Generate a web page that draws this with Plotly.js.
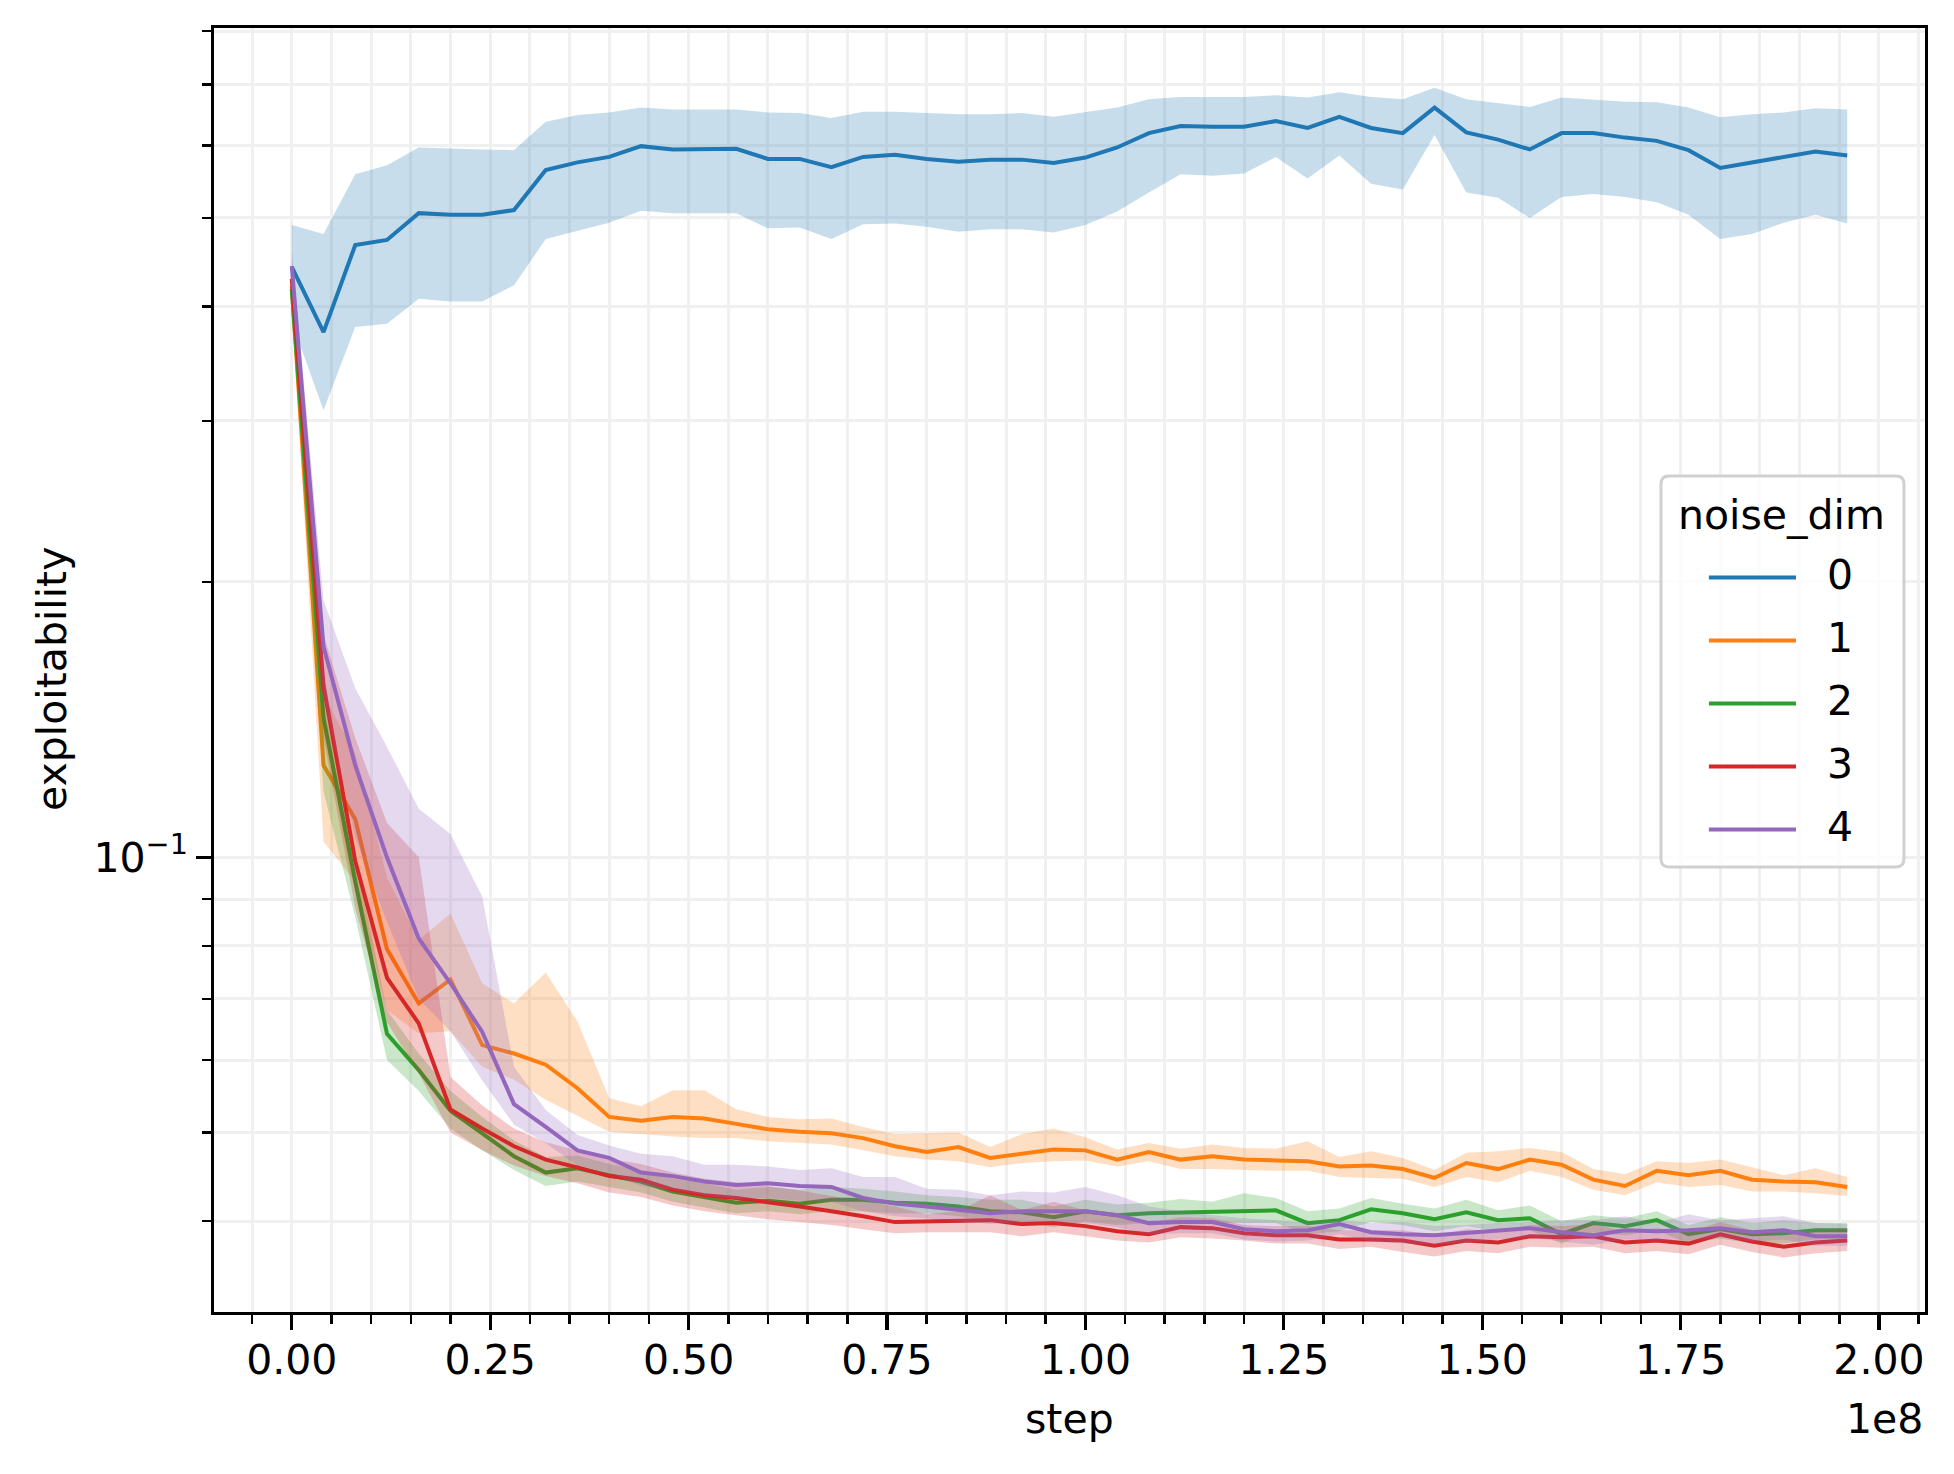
<!DOCTYPE html>
<html>
<head>
<meta charset="utf-8">
<script src="https://cdn.plot.ly/plotly-3.0.1.min.js"></script>
<style>
  html, body { margin: 0; padding: 0; background: #fff; }
  #chart { width: 1954px; height: 1474px; }
</style>
</head>
<body>
<div id="chart"></div>
<script>
// training steps (x)
const steps = [0, 4e6, 8e6, 12e6, 16e6, 20e6, 24e6, 28e6, 32e6, 36e6,
  40e6, 44e6, 48e6, 52e6, 56e6, 60e6, 64e6, 68e6, 72e6, 76e6,
  80e6, 84e6, 88e6, 92e6, 96e6, 100e6, 104e6, 108e6, 112e6, 116e6,
  120e6, 124e6, 128e6, 132e6, 136e6, 140e6, 144e6, 148e6, 152e6, 156e6,
  160e6, 164e6, 168e6, 172e6, 176e6, 180e6, 184e6, 188e6, 192e6, 196e6];

// noise_dim = 0
const dim0_mean = [0.442, 0.375, 0.467, 0.473, 0.506, 0.504, 0.504, 0.510, 0.564, 0.575,
  0.583, 0.599, 0.594, 0.595, 0.595, 0.580, 0.580, 0.568, 0.583, 0.586,
  0.580, 0.576, 0.579, 0.579, 0.574, 0.582, 0.597, 0.619, 0.630, 0.629,
  0.629, 0.638, 0.627, 0.645, 0.627, 0.619, 0.660, 0.620, 0.609, 0.594,
  0.619, 0.619, 0.612, 0.607, 0.593, 0.567, 0.575, 0.583, 0.591, 0.585];
const dim0_hi = [0.491, 0.480, 0.558, 0.571, 0.597, 0.595, 0.594, 0.593, 0.637, 0.648,
  0.652, 0.660, 0.657, 0.657, 0.657, 0.652, 0.651, 0.643, 0.653, 0.653,
  0.651, 0.649, 0.649, 0.651, 0.645, 0.652, 0.660, 0.674, 0.678, 0.678,
  0.678, 0.681, 0.677, 0.686, 0.678, 0.674, 0.694, 0.674, 0.668, 0.661,
  0.677, 0.674, 0.670, 0.669, 0.660, 0.644, 0.649, 0.652, 0.659, 0.657];
const dim0_lo = [0.385, 0.308, 0.380, 0.383, 0.408, 0.405, 0.405, 0.422, 0.474, 0.484,
  0.494, 0.509, 0.506, 0.506, 0.506, 0.487, 0.488, 0.474, 0.492, 0.493,
  0.489, 0.483, 0.486, 0.486, 0.482, 0.491, 0.508, 0.533, 0.558, 0.556,
  0.559, 0.583, 0.552, 0.585, 0.545, 0.537, 0.616, 0.533, 0.526, 0.500,
  0.527, 0.531, 0.527, 0.520, 0.504, 0.474, 0.480, 0.494, 0.504, 0.493];

// noise_dim = 1
const dim1_mean = [0.421, 0.126, 0.110, 0.0793, 0.0692, 0.0735, 0.0623, 0.0610, 0.0593, 0.0559,
  0.0520, 0.0515, 0.0520, 0.0518, 0.0511, 0.0504, 0.0501, 0.0499, 0.0493, 0.0483,
  0.0476, 0.0482, 0.0469, 0.0474, 0.0479, 0.0478, 0.0467, 0.0476, 0.0467, 0.0471,
  0.0467, 0.0466, 0.0465, 0.0459, 0.0460, 0.0456, 0.0446, 0.0463, 0.0456, 0.0467,
  0.0461, 0.0444, 0.0437, 0.0454, 0.0449, 0.0454, 0.0444, 0.0442, 0.0441, 0.0436];
const dim1_hi = [0.440, 0.150, 0.130, 0.095, 0.0812, 0.0868, 0.0728, 0.0692, 0.0748, 0.0661,
  0.0545, 0.0534, 0.0556, 0.0556, 0.0530, 0.0520, 0.0517, 0.0518, 0.0507, 0.0498,
  0.0499, 0.0500, 0.0482, 0.0498, 0.0505, 0.0494, 0.0479, 0.0487, 0.0480, 0.0485,
  0.0481, 0.0480, 0.0489, 0.0470, 0.0477, 0.0469, 0.0455, 0.0475, 0.0477, 0.0481,
  0.0476, 0.0456, 0.0450, 0.0465, 0.0463, 0.0467, 0.0458, 0.0449, 0.0457, 0.0447];
const dim1_lo = [0.402, 0.104, 0.094, 0.068, 0.0642, 0.0645, 0.0590, 0.0571, 0.0543, 0.0522,
  0.0501, 0.0498, 0.0495, 0.0493, 0.0493, 0.0489, 0.0487, 0.0485, 0.0478, 0.0471,
  0.0467, 0.0465, 0.0458, 0.0463, 0.0465, 0.0466, 0.0459, 0.0465, 0.0456, 0.0456,
  0.0455, 0.0454, 0.0454, 0.0447, 0.0446, 0.0445, 0.0436, 0.0447, 0.0441, 0.0454,
  0.0447, 0.0433, 0.0427, 0.0441, 0.0436, 0.0438, 0.0431, 0.0431, 0.0429, 0.0426];

// noise_dim = 2
const dim2_mean = [0.418, 0.142, 0.094, 0.0641, 0.0585, 0.0528, 0.0499, 0.0471, 0.0452, 0.0457,
  0.0449, 0.0442, 0.0431, 0.0425, 0.0419, 0.0421, 0.0418, 0.0422, 0.0422, 0.0419,
  0.0418, 0.0415, 0.0410, 0.0409, 0.0404, 0.0410, 0.0406, 0.0408, 0.0409, 0.0409,
  0.0410, 0.0411, 0.0398, 0.0401, 0.0412, 0.0408, 0.0402, 0.0409, 0.0401, 0.0403,
  0.0387, 0.0398, 0.0395, 0.0401, 0.0387, 0.0392, 0.0387, 0.0388, 0.0391, 0.0391];
const dim2_hi = [0.430, 0.160, 0.100, 0.068, 0.0610, 0.0555, 0.0520, 0.0490, 0.0470, 0.0472,
  0.0462, 0.0455, 0.0445, 0.0440, 0.0433, 0.0436, 0.0433, 0.0436, 0.0434, 0.0431,
  0.0427, 0.0425, 0.0422, 0.0422, 0.0415, 0.0422, 0.0417, 0.0419, 0.0423, 0.0420,
  0.0429, 0.0424, 0.0410, 0.0413, 0.0424, 0.0418, 0.0413, 0.0422, 0.0411, 0.0416,
  0.0400, 0.0406, 0.0403, 0.0410, 0.0396, 0.0404, 0.0398, 0.0401, 0.0398, 0.0398];
const dim2_lo = [0.405, 0.118, 0.086, 0.060, 0.0555, 0.0505, 0.0478, 0.0455, 0.0437, 0.0442,
  0.0436, 0.0430, 0.0420, 0.0414, 0.0408, 0.0410, 0.0407, 0.0410, 0.0410, 0.0408,
  0.0408, 0.0405, 0.0400, 0.0399, 0.0394, 0.0400, 0.0396, 0.0398, 0.0398, 0.0398,
  0.0398, 0.0398, 0.0387, 0.0390, 0.0399, 0.0396, 0.0390, 0.0395, 0.0390, 0.0391,
  0.0378, 0.0389, 0.0386, 0.0391, 0.0378, 0.0383, 0.0378, 0.0378, 0.0382, 0.0382];

// noise_dim = 3
const dim3_mean = [0.429, 0.154, 0.099, 0.0738, 0.0658, 0.0530, 0.0505, 0.0483, 0.0467, 0.0458,
  0.0448, 0.0444, 0.0433, 0.0427, 0.0424, 0.0420, 0.0415, 0.0410, 0.0405, 0.0399,
  0.0400, 0.0400, 0.0401, 0.0397, 0.0398, 0.0395, 0.0390, 0.0387, 0.0394, 0.0393,
  0.0388, 0.0386, 0.0386, 0.0382, 0.0382, 0.0381, 0.0376, 0.0381, 0.0379, 0.0385,
  0.0384, 0.0385, 0.0379, 0.0381, 0.0378, 0.0387, 0.0380, 0.0375, 0.0379, 0.0381];
const dim3_hi = [0.440, 0.175, 0.135, 0.109, 0.100, 0.0575, 0.0535, 0.0505, 0.0488, 0.0478,
  0.0468, 0.0462, 0.0452, 0.0445, 0.0441, 0.0437, 0.0432, 0.0426, 0.0421, 0.0415,
  0.0407, 0.0410, 0.0427, 0.0411, 0.0420, 0.0411, 0.0406, 0.0398, 0.0404, 0.0403,
  0.0396, 0.0395, 0.0395, 0.0391, 0.0391, 0.0391, 0.0386, 0.0392, 0.0390, 0.0396,
  0.0395, 0.0397, 0.0390, 0.0393, 0.0389, 0.0399, 0.0391, 0.0386, 0.0390, 0.0392];
const dim3_lo = [0.418, 0.135, 0.088, 0.066, 0.058, 0.0500, 0.0478, 0.0460, 0.0448, 0.0440,
  0.0430, 0.0425, 0.0416, 0.0410, 0.0406, 0.0402, 0.0399, 0.0396, 0.0392, 0.0388,
  0.0389, 0.0389, 0.0389, 0.0385, 0.0389, 0.0385, 0.0381, 0.0379, 0.0384, 0.0383,
  0.0381, 0.0378, 0.0378, 0.0373, 0.0375, 0.0370, 0.0366, 0.0371, 0.0369, 0.0375,
  0.0374, 0.0375, 0.0369, 0.0371, 0.0368, 0.0377, 0.0370, 0.0365, 0.0369, 0.0371];

// noise_dim = 4
const dim4_mean = [0.443, 0.170, 0.126, 0.0999, 0.0815, 0.0728, 0.0644, 0.0537, 0.0507, 0.0478,
  0.0469, 0.0452, 0.0448, 0.0442, 0.0438, 0.0440, 0.0437, 0.0436, 0.0424, 0.0418,
  0.0415, 0.0412, 0.0408, 0.0410, 0.0410, 0.0410, 0.0406, 0.0398, 0.0399, 0.0399,
  0.0392, 0.0390, 0.0391, 0.0397, 0.0389, 0.0387, 0.0386, 0.0388, 0.0391, 0.0393,
  0.0389, 0.0386, 0.0391, 0.0390, 0.0391, 0.0393, 0.0389, 0.0391, 0.0385, 0.0385];
const dim4_hi = [0.460, 0.191, 0.153, 0.132, 0.113, 0.106, 0.0905, 0.0590, 0.0529, 0.0497,
  0.0484, 0.0474, 0.0471, 0.0461, 0.0461, 0.0459, 0.0455, 0.0457, 0.0447, 0.0447,
  0.0434, 0.0433, 0.0427, 0.0431, 0.0430, 0.0436, 0.0427, 0.0415, 0.0410, 0.0406,
  0.0403, 0.0401, 0.0398, 0.0401, 0.0398, 0.0399, 0.0395, 0.0396, 0.0398, 0.0399,
  0.0401, 0.0401, 0.0405, 0.0398, 0.0407, 0.0401, 0.0403, 0.0405, 0.0398, 0.0397];
const dim4_lo = [0.425, 0.150, 0.105, 0.085, 0.070, 0.0645, 0.0570, 0.0510, 0.0487, 0.0460,
  0.0452, 0.0437, 0.0433, 0.0427, 0.0423, 0.0424, 0.0421, 0.0420, 0.0410, 0.0405,
  0.0403, 0.0400, 0.0397, 0.0399, 0.0399, 0.0398, 0.0394, 0.0387, 0.0388, 0.0388,
  0.0382, 0.0380, 0.0381, 0.0387, 0.0380, 0.0378, 0.0377, 0.0379, 0.0382, 0.0384,
  0.0380, 0.0377, 0.0382, 0.0381, 0.0381, 0.0384, 0.0380, 0.0382, 0.0376, 0.0376];

// tick labels
const xTickVals = [0, 25e6, 50e6, 75e6, 100e6, 125e6, 150e6, 175e6, 200e6];
const xTickText = ['0.00', '0.25', '0.50', '0.75', '1.00', '1.25', '1.50', '1.75', '2.00'];
const yTickVals = [0.1];
const yTickText = ['10<sup>\u22121</sup>'];
const yMinorVals = [0.04, 0.05, 0.06, 0.07, 0.08, 0.09, 0.2, 0.3, 0.4, 0.5, 0.6, 0.7, 0.8];

const seriesNames = ['0', '1', '2', '3', '4'];
const seriesColors = ['#1f77b4', '#ff7f0e', '#2ca02c', '#d62728', '#9467bd'];
const seriesData = [
  [dim0_mean, dim0_lo, dim0_hi],
  [dim1_mean, dim1_lo, dim1_hi],
  [dim2_mean, dim2_lo, dim2_hi],
  [dim3_mean, dim3_lo, dim3_hi],
  [dim4_mean, dim4_lo, dim4_hi]
];

const FONT = 'DejaVu Sans, sans-serif';
const FS = 41;
// opaque so major and minor grid lines don't stack up darker
const GRID = '#f0f0f0';

function rgba(hex, a) {
  const n = parseInt(hex.slice(1), 16);
  return `rgba(${(n >> 16) & 255},${(n >> 8) & 255},${n & 255},${a})`;
}

let traces = [];
seriesData.forEach((s, k) => {
  const [mean, lo, hi] = s;
  // confidence band: lower edge, then upper edge filled down to it
  traces.push({x: steps, y: lo, type: 'scatter', mode: 'lines',
    line: {width: 0, color: seriesColors[k]}, showlegend: false, hoverinfo: 'skip'});
  traces.push({x: steps, y: hi, type: 'scatter', mode: 'lines', fill: 'tonexty',
    fillcolor: rgba(seriesColors[k], 0.25),
    line: {width: 0, color: seriesColors[k]}, showlegend: false, hoverinfo: 'skip'});
  traces.push({x: steps, y: mean, type: 'scatter', mode: 'lines', name: seriesNames[k],
    line: {width: 4, color: seriesColors[k]}, showlegend: false});
});

// legend box drawn by hand so it can look like the matplotlib one
const lg = {x0: 0.8457, x1: 0.9877, y0: 0.3466, y1: 0.6511, rx: 0.0047, ry: 0.0062};
const boxPath = `M ${lg.x0 + lg.rx},${lg.y0} L ${lg.x1 - lg.rx},${lg.y0} Q ${lg.x1},${lg.y0} ${lg.x1},${lg.y0 + lg.ry}` +
  ` L ${lg.x1},${lg.y1 - lg.ry} Q ${lg.x1},${lg.y1} ${lg.x1 - lg.rx},${lg.y1}` +
  ` L ${lg.x0 + lg.rx},${lg.y1} Q ${lg.x0},${lg.y1} ${lg.x0},${lg.y1 - lg.ry}` +
  ` L ${lg.x0},${lg.y0 + lg.ry} Q ${lg.x0},${lg.y0} ${lg.x0 + lg.rx},${lg.y0} Z`;

let shapes = [{type: 'path', xref: 'paper', yref: 'paper', path: boxPath,
  fillcolor: 'rgba(255,255,255,0.8)', line: {color: '#d0d0d0', width: 3}, layer: 'above'}];
let annotations = [
  {text: 'noise_dim', xref: 'paper', yref: 'paper', x: 0.9164, y: 0.6207,
    xanchor: 'center', yanchor: 'middle', showarrow: false, font: {family: FONT, size: FS, color: '#000'}},
  {text: 'step', xref: 'paper', yref: 'paper', x: 0.5, y: -0.0835,
    xanchor: 'center', yanchor: 'middle', showarrow: false, font: {family: FONT, size: FS, color: '#000'}},
  {text: '1e8', xref: 'paper', yref: 'paper', x: 1.0, y: -0.0835,
    xanchor: 'right', yanchor: 'middle', showarrow: false, font: {family: FONT, size: FS, color: '#000'}},
  {text: 'exploitability', xref: 'paper', yref: 'paper', x: -0.0947, y: 0.493, textangle: -90,
    xanchor: 'center', yanchor: 'middle', showarrow: false, font: {family: FONT, size: FS, color: '#000'}}
];
const entryY = [0.5720, 0.5229, 0.4739, 0.4248, 0.3757];
seriesNames.forEach((name, k) => {
  shapes.push({type: 'line', xref: 'paper', yref: 'paper', x0: 0.8737, x1: 0.9246,
    y0: entryY[k], y1: entryY[k], line: {color: seriesColors[k], width: 4}, layer: 'above'});
  annotations.push({text: name, xref: 'paper', yref: 'paper', x: 0.9503, y: entryY[k] + 0.002,
    xanchor: 'center', yanchor: 'middle', showarrow: false, font: {family: FONT, size: FS, color: '#000'}});
});

const layout = {
  width: 1954,
  height: 1474,
  margin: {l: 214, r: 29, t: 28, b: 162, pad: 0},
  paper_bgcolor: '#fff',
  plot_bgcolor: '#fff',
  font: {family: FONT, size: FS, color: '#000'},
  showlegend: false,
  xaxis: {
    range: [-9.8e6, 205.8e6],
    tickmode: 'array', tickvals: xTickVals, ticktext: xTickText,
    ticks: 'outside', ticklen: 14.6, tickwidth: 3.3, tickcolor: '#000',
    ticklabelstandoff: -5,
    showgrid: true, gridcolor: GRID, gridwidth: 3,
    minor: {tick0: 0, dtick: 5e6, ticks: 'outside', ticklen: 8.3, tickwidth: 2.5, tickcolor: '#000',
      showgrid: true, gridcolor: GRID, gridwidth: 3},
    showline: true, mirror: true, linecolor: '#000', linewidth: 3.3,
    zeroline: false,
    tickfont: {family: FONT, size: FS, color: '#000'}
  },
  yaxis: {
    type: 'log',
    range: [-1.4973, -0.0934],
    tickmode: 'array', tickvals: yTickVals, ticktext: yTickText,
    ticks: 'outside', ticklen: 14.6, tickwidth: 3.3, tickcolor: '#000',
    showgrid: true, gridcolor: GRID, gridwidth: 3,
    minor: {tickmode: 'array', tickvals: yMinorVals, ticks: 'outside', ticklen: 8.3, tickwidth: 2.5,
      tickcolor: '#000', showgrid: true, gridcolor: GRID, gridwidth: 3},
    showline: true, mirror: true, linecolor: '#000', linewidth: 3.3,
    zeroline: false,
    tickfont: {family: FONT, size: FS, color: '#000'}
  },
  shapes: shapes,
  annotations: annotations
};

Plotly.newPlot('chart', traces, layout, {staticPlot: true, displayModeBar: false});
</script>
</body>
</html>
